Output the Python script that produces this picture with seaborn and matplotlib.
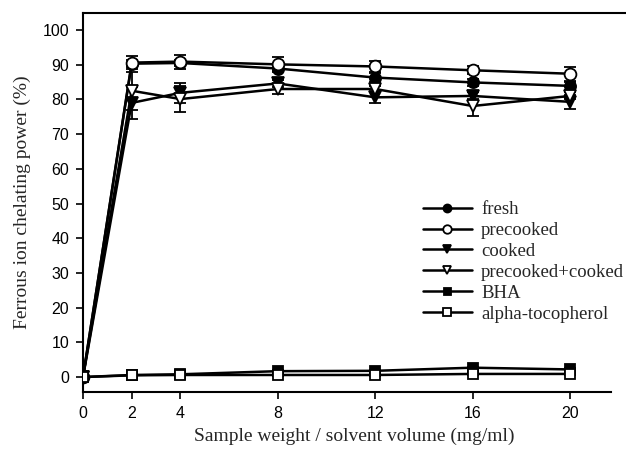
import matplotlib
matplotlib.use("Agg")
import matplotlib.pyplot as plt
import seaborn as sns
import pandas as pd

x = [0, 2, 4, 8, 12, 16, 20]
series_names = ["fresh", "precooked", "cooked", "precooked+cooked", "BHA", "alpha-tocopherol"]
fresh = [0, 90.3, 90.5, 88.9, 86.3, 84.9, 83.9]
precooked = [0, 90.6, 90.9, 90.1, 89.5, 88.4, 87.4]
cooked = [0, 79.0, 81.9, 84.6, 80.6, 81.0, 79.3]
precooked_cooked = [0, 82.5, 80.1, 83.0, 83.0, 78.1, 81.0]
bha = [0, 0.6, 0.8, 1.7, 1.8, 2.7, 2.2]
alpha = [0, 0.5, 0.6, 0.6, 0.6, 0.9, 0.9]
fresh_err = [0, 1.0, 1.0, 1.0, 1.2, 1.0, 1.2]
precooked_err = [0, 1.8, 2.0, 2.0, 1.6, 1.2, 2.0]
cooked_err = [0, 4.5, 2.8, 1.0, 1.6, 1.0, 2.0]
precooked_cooked_err = [0, 5.5, 3.8, 1.5, 1.0, 3.0, 1.0]
bha_err = [0, 0.3, 0.3, 0.3, 0.3, 0.3, 0.3]
alpha_err = [0, 0.3, 0.3, 0.3, 0.3, 0.3, 0.3]

values = [fresh, precooked, cooked, precooked_cooked, bha, alpha]
errors = [fresh_err, precooked_err, cooked_err, precooked_cooked_err, bha_err, alpha_err]
markers = ["o", "o", "v", "v", "s", "s"]
faces = ["black", "white", "black", "white", "black", "white"]
sizes = [8, 8.5, 8, 8.5, 7, 7.5]

sns.set_style("ticks")
plt.rcParams["font.family"] = ["Liberation Sans", "DejaVu Sans"]

fig = plt.figure(figsize=(6.26, 4.61), dpi=100)
ax = fig.add_axes([0.1326, 0.1497, 0.8674, 0.8221])

rows = []
for name, vals in zip(series_names, values):
    for xi, yi in zip(x, vals):
        rows.append({"x": xi, "y": yi, "series": name})
df = pd.DataFrame(rows)

for name, vals, err, m, fc, ms in zip(series_names, values, errors, markers, faces, sizes):
    ax.errorbar(x, vals, yerr=err, fmt="none", ecolor="black", elinewidth=1.3,
                capsize=4, capthick=1.3, zorder=2)
    sub = df[df["series"] == name]
    sns.lineplot(data=sub, x="x", y="y", ax=ax, color="black", linewidth=1.8,
                 marker=m, markersize=ms, markerfacecolor=fc, markeredgecolor="black",
                 markeredgewidth=1.3, label=name, zorder=3)

ax.set_xlim(0, 22.3)
ax.set_ylim(-4.3, 104.9)
ax.set_xticks([0, 2, 4, 8, 12, 16, 20])
ax.set_yticks(range(0, 101, 10))
ax.spines["right"].set_visible(False)
ax.spines["bottom"].set_bounds(0, 21.7)
for s in ["left", "bottom", "top"]:
    ax.spines[s].set_linewidth(1.5)
    ax.spines[s].set_color("black")
ax.tick_params(axis="both", direction="out", length=5, width=1.2, labelsize=11.5,
               colors="black", pad=5)

ax.set_xlabel("Sample weight / solvent volume (mg/ml)", family="Liberation Serif",
              fontsize=14, labelpad=5)
ax.set_ylabel("Ferrous ion chelating power (%)", family="Liberation Serif",
              fontsize=14, labelpad=8)

leg = ax.legend(loc="upper left", bbox_to_anchor=(0.595, 0.548), frameon=False,
                prop={"family": "Liberation Serif", "size": 13.5},
                handlelength=2.6, labelspacing=0.2, handletextpad=0.5,
                markerscale=0.72)

fig.savefig("out.png", dpi=100)
